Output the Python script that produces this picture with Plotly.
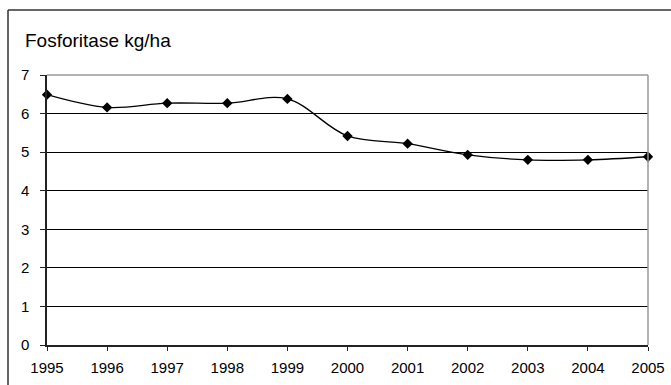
import plotly.graph_objects as go

# Phosphorus fertiliser use per year
years = [1995, 1996, 1997, 1998, 1999, 2000, 2001, 2002, 2003, 2004, 2005]
kg_per_ha = [6.49, 6.16, 6.27, 6.27, 6.38, 5.42, 5.22, 4.93, 4.80, 4.80, 4.88]
y_ticks = [0, 1, 2, 3, 4, 5, 6, 7]
title_text = "Fosforitase kg/ha"

FONT = "Liberation Sans, Arial, sans-serif"

W, H = 671, 385
ML, MR, MT, MB = 47, 23, 75, 40
PW, PH = W - ML - MR, H - MT - MB


def px_x(px):
    """Page pixel x -> paper coordinate."""
    return (px - ML) / PW


def px_y(py):
    """Page pixel y (from top) -> paper coordinate."""
    return (H - MB - py) / PH


fig = go.Figure()
fig.add_trace(go.Scatter(
    x=years,
    y=kg_per_ha,
    mode="lines+markers",
    line=dict(color="black", width=1.3, shape="spline", smoothing=1.0),
    marker=dict(symbol="diamond", size=8, color="black"),
    cliponaxis=False,
    showlegend=False,
))

fig.update_layout(
    width=W,
    height=H,
    margin=dict(l=ML, r=MR, t=MT, b=MB),
    paper_bgcolor="white",
    plot_bgcolor="white",
    font=dict(family=FONT, size=15, color="black"),
    xaxis=dict(
        range=[1995, 2005],
        tickvals=years,
        ticktext=[str(y) for y in years],
        showgrid=False,
        zeroline=False,
        showline=True,
        linecolor="#222222",
        linewidth=1.5,
        ticks="outside",
        ticklen=4,
        tickcolor="#222222",
        tickfont=dict(size=15),
        ticklabelstandoff=4,
        automargin=False,
    ),
    yaxis=dict(
        range=[0, 7],
        tickvals=y_ticks,
        showgrid=True,
        gridcolor="black",
        gridwidth=1,
        zeroline=False,
        showline=True,
        linecolor="#222222",
        linewidth=1.5,
        ticks="outside",
        ticklen=5,
        tickcolor="#222222",
        tickfont=dict(size=15),
        ticklabelstandoff=8,
        automargin=False,
    ),
    shapes=[
        # grey frame on the top and right of the plot area
        dict(type="line", xref="paper", yref="paper", x0=0, x1=1, y0=1, y1=1,
             line=dict(color="#999999", width=1.5), layer="above"),
        dict(type="line", xref="paper", yref="paper", x0=1, x1=1, y0=0, y1=1,
             line=dict(color="#999999", width=1.5), layer="above"),
        # outer chart border: top and left edges, running to the page edge
        dict(type="line", xref="paper", yref="paper",
             x0=px_x(8), x1=px_x(W), y0=px_y(10), y1=px_y(10),
             line=dict(color="#333333", width=1.5), layer="below"),
        dict(type="line", xref="paper", yref="paper",
             x0=px_x(8), x1=px_x(8), y0=px_y(H), y1=px_y(10),
             line=dict(color="#333333", width=1.5), layer="below"),
    ],
    annotations=[
        dict(text=title_text, xref="paper", yref="paper",
             x=px_x(23), y=px_y(40.5), xanchor="left", yanchor="middle",
             showarrow=False, font=dict(size=19, family=FONT, color="black")),
    ],
)

fig.write_html("out.html")
